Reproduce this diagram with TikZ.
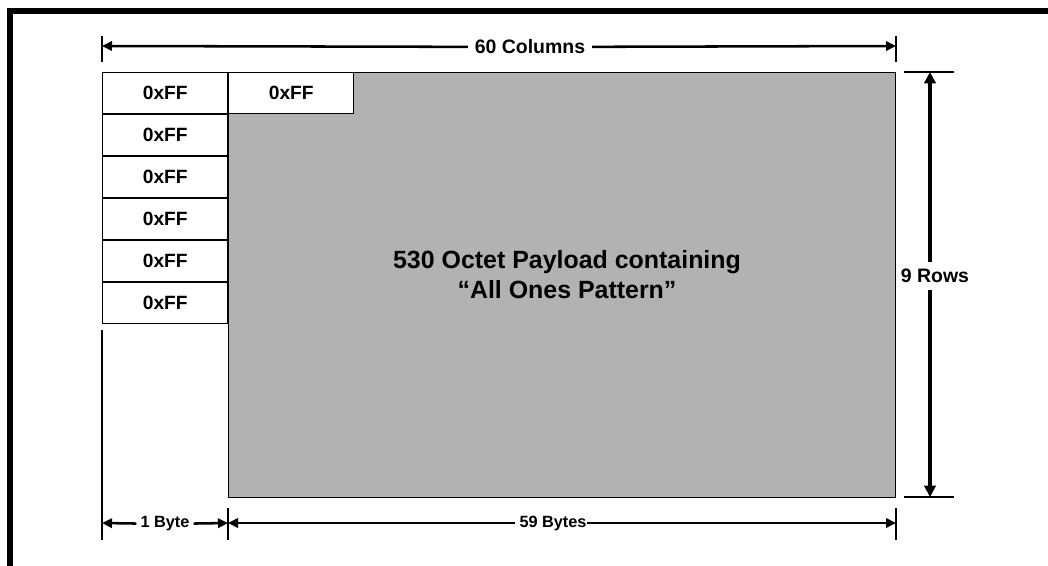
\documentclass[tikz,border=0pt]{standalone}
\usepackage{fontspec}
\setmainfont{Liberation Sans}
\usepackage{tikz}
\usetikzlibrary{arrows.meta, positioning}
\definecolor{PayGray}{RGB}{178, 178, 178}
\begin{document}
\begin{tikzpicture}[x=0.75pt,y=-0.75pt,
  bytebox/.style={draw=black, line width=1.1pt, fill=white, anchor=north west,
    minimum width=93.75pt, minimum height=30.75pt, inner sep=0pt,
    font=\fontsize{14.4}{16}\selectfont\bfseries},
  dimlabel/.style={inner xsep=5pt, inner ysep=2pt, font=\fontsize{14.6}{16}\selectfont\bfseries},
  smalllabel/.style={inner xsep=3pt, inner ysep=2pt, font=\fontsize{12.2}{14}\selectfont\bfseries},
  dimarrow/.style={line width=1.9pt, -{Triangle[length=7.5pt,width=7pt]}},
  rowarrow/.style={line width=3pt, -{Triangle[length=8.5pt,width=8.5pt]}},
  tick/.style={line width=1.5pt}]
  \path[use as bounding box] (0,0) rectangle (1048,566);
  % frame
  \draw[line width=4.5pt] (10,566) -- (10,11) -- (1048,11);
  % payload
  \node[draw=black, line width=1.1pt, fill=PayGray, anchor=north west, inner sep=0pt,
    minimum width=500.25pt, minimum height=318.75pt] (payload) at (228,72) {};
  \node[align=center, font=\fontsize{18.7}{22.5}\selectfont\bfseries] (paytext) at (567,275)
    {530 Octet Payload containing\\``All Ones Pattern''};
  \node[bytebox] (ff0) at (228,72) {0xFF};
  \foreach \i in {1,...,6}{
    \node[bytebox] (ff\i) at (102,{72+(\i-1)*42}) {0xFF};
  }
  % 60 columns
  \coordinate (colL) at (102,46);
  \coordinate (colR) at (896,46);
  \draw[tick] (102,36) -- (102,62);
  \draw[tick] (896,36) -- (896,62);
  \node[dimlabel] (cols) at (530,47) {60 Columns};
  \draw[dimarrow] (cols) -- (colL);
  \draw[dimarrow] (cols) -- (colR);
  % 9 rows
  \coordinate (rowT) at (930,72);
  \coordinate (rowB) at (930,497);
  \draw[tick] (904,72) -- (954,72);
  \draw[tick] (904,497) -- (954,497);
  \node[dimlabel, inner ysep=5pt] (rows) at (935,276) {9 Rows};
  \draw[rowarrow] (rows.north -| rowT) -- (rowT);
  \draw[rowarrow] (rows.south -| rowB) -- (rowB);
  % bytes
  \draw[tick] (102,330) -- (102,540);
  \draw[tick] (228,508) -- (228,540);
  \draw[tick] (896,508) -- (896,540);
  \coordinate (byteL) at (102,523);
  \coordinate (byteM) at (228,523);
  \coordinate (byteR) at (896,523);
  \node[smalllabel] (one) at (165,524) {1 Byte};
  \node[smalllabel] (rest) at (553,524) {59 Bytes};
  \draw[dimarrow] (one) -- (byteL);
  \draw[dimarrow] (one) -- (byteM);
  \draw[dimarrow] (rest.west |- byteM) -- (byteM);
  \draw[dimarrow] ([xshift=-3pt]rest.east |- byteR) -- (byteR);
\end{tikzpicture}
\end{document}
